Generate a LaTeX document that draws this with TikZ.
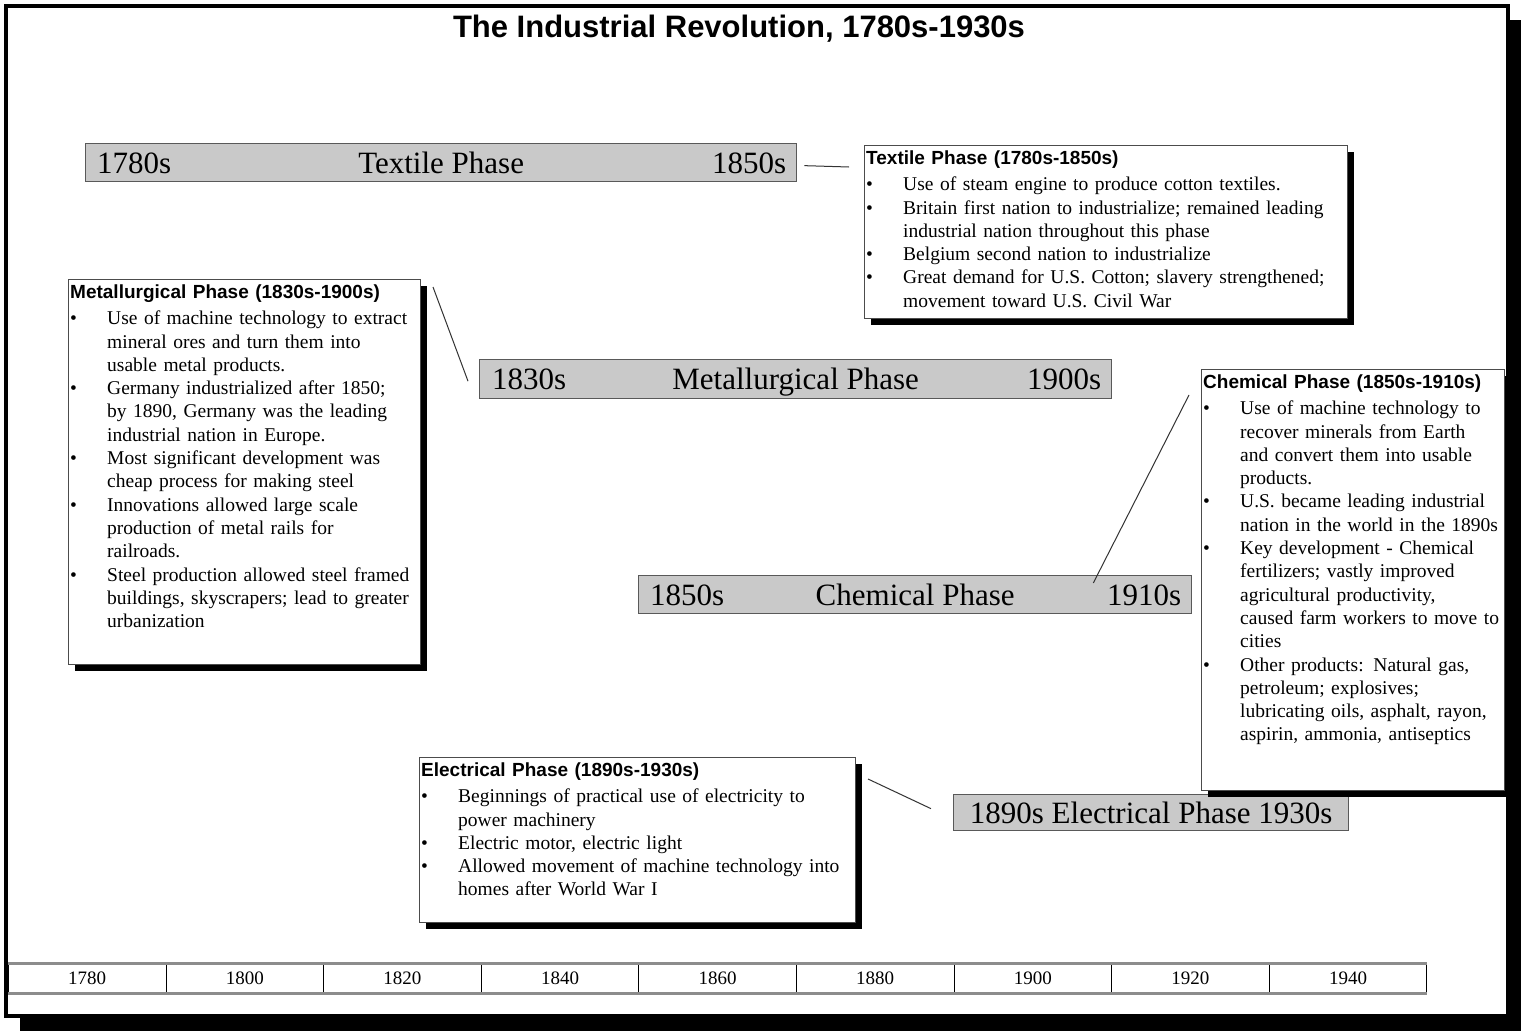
\documentclass[tikz,border=0pt]{standalone}
\usepackage{fontspec}
\setmainfont{Liberation Serif}
\setsansfont{Liberation Sans}
\usetikzlibrary{positioning,shadows}

\newcommand{\notehead}[1]{\noindent{\sffamily\bfseries\fontsize{19}{23}\selectfont #1}\par\vspace{2.5pt}}
\newcommand{\noteitem}[1]{\noindent\hangindent=37pt\hangafter=1\makebox[37pt][l]{\textbullet}#1\par}
\newcommand{\brk}{\hfil\break}

\tikzset{
  phasebar/.style={draw=black!65, line width=1.3pt, fill=black!21, anchor=north west,
    inner sep=0pt, text height=21pt, text depth=0pt, font=\fontsize{31}{32}\selectfont},
  bartext/.style={inner sep=0pt, text height=21pt, text depth=0pt, font=\fontsize{31}{32}\selectfont},
  notebox/.style={draw=black!70, line width=1pt, fill=white, anchor=north west, inner sep=0pt,
    drop shadow={shadow xshift=6pt, shadow yshift=-6pt, fill=black, opacity=1}},
  notetext/.style={anchor=north west, inner sep=0pt, align=left,
    font=\fontsize{19.5}{23.3}\selectfont},
  yearcell/.style={draw=black, line width=.8pt, anchor=north west, inner sep=0pt,
    minimum width=157.6pt, minimum height=30pt, font=\fontsize{19}{20}\selectfont},
  link/.style={draw=black!80, line width=1pt}
}

\begin{document}
\begin{tikzpicture}[x=1pt,y=-1pt]
  \useasboundingbox (0,0) rectangle (1527,1031);
  % page frame with shadow
  \fill[black] (20,20) rectangle (1521,1031);
  \draw[line width=3.5pt, fill=white] (6,6) rectangle (1508,1016);

  \node[font=\sffamily\bfseries\fontsize{31}{33}\selectfont, inner sep=0pt] (title) at (739,29)
    {The Industrial Revolution, 1780s-1930s};

  % phase bars
  \node[phasebar, minimum width=711pt, minimum height=38pt] (txbar) at (85,143) {Textile Phase};
  \node[bartext, right=12pt of txbar.west] {1780s};
  \node[bartext, left=11pt of txbar.east] {1850s};

  \node[phasebar, minimum width=632pt, minimum height=39pt] (mtbar) at (479,359) {Metallurgical Phase};
  \node[bartext, right=13pt of mtbar.west] {1830s};
  \node[bartext, left=11pt of mtbar.east] {1900s};

  \node[phasebar, minimum width=553pt, minimum height=38pt] (chbar) at (638,575) {Chemical Phase};
  \node[bartext, right=12pt of chbar.west] {1850s};
  \node[bartext, left=11pt of chbar.east] {1910s};

  \node[phasebar, minimum width=395pt, minimum height=36pt] (elbar) at (953,794)
    {1890s Electrical Phase 1930s};

  % note boxes
  \node[notebox, minimum width=483pt, minimum height=173pt] (txbox) at (864,145) {};
  \node[notetext, text width=478pt] at ([shift={(2,6)}]txbox.north west) {%
    \notehead{Textile Phase (1780s-1850s)}
    \noteitem{Use of steam engine to produce cotton textiles.}
    \noteitem{Britain first nation to industrialize; remained leading\brk industrial nation throughout this phase}
    \noteitem{Belgium second nation to industrialize}
    \noteitem{Great demand for U.S. Cotton; slavery strengthened;\brk movement toward U.S. Civil War}};

  \node[notebox, minimum width=352pt, minimum height=385pt] (mtbox) at (68,279) {};
  \node[notetext, text width=349pt] at ([shift={(2,6)}]mtbox.north west) {%
    \notehead{Metallurgical Phase (1830s-1900s)}
    \noteitem{Use of machine technology to extract\brk mineral ores and turn them into\brk usable metal products.}
    \noteitem{Germany industrialized after 1850;\brk by 1890, Germany was the leading\brk industrial nation in Europe.}
    \noteitem{Most significant development was\brk cheap process for making steel}
    \noteitem{Innovations allowed large scale\brk production of metal rails for\brk railroads.}
    \noteitem{Steel production allowed steel framed\brk buildings, skyscrapers; lead to greater\brk urbanization}};

  \node[notebox, minimum width=303pt, minimum height=421pt] (chbox) at (1201,369) {};
  \node[notetext, text width=302pt] at ([shift={(2,6)}]chbox.north west) {%
    \notehead{Chemical Phase (1850s-1910s)}
    \noteitem{Use of machine technology to\brk recover minerals from Earth\brk and convert them into usable\brk products.}
    \noteitem{U.S. became leading industrial\brk nation in the world in the 1890s}
    \noteitem{Key development - Chemical\brk fertilizers; vastly improved\brk agricultural productivity,\brk caused farm workers to move to\brk cities}
    \noteitem{Other products: Natural gas,\brk petroleum; explosives;\brk lubricating oils, asphalt, rayon,\brk aspirin, ammonia, antiseptics}};

  \node[notebox, minimum width=436pt, minimum height=165pt] (elbox) at (419,757) {};
  \node[notetext, text width=432pt] at ([shift={(2,6)}]elbox.north west) {%
    \notehead{Electrical Phase (1890s-1930s)}
    \noteitem{Beginnings of practical use of electricity to\brk power machinery}
    \noteitem{Electric motor, electric light}
    \noteitem{Allowed movement of machine technology into\brk homes after World War I}};

  % connectors
  \draw[link] ([shift={(7,3)}]txbar.east) -- ([shift={(-15,22)}]txbox.north west);
  \draw[link] ([shift={(12,8)}]mtbox.north east) -- ([shift={(-11,2)}]mtbar.west);
  \draw[link] ([shift={(-12,26)}]chbox.north west) -- ([shift={(-99,8)}]chbar.north east);
  \draw[link] ([shift={(12,22)}]elbox.north east) -- ([shift={(-22,-4)}]elbar.west);

  % time scale
  \foreach \yr [count=\i from 0] in {1780,1800,...,1940} {
    \node[yearcell] (yr\i) at ({8+157.6*\i},963) {\yr};
  }
  \draw[black!45, line width=3pt] (yr0.north west) -- (yr8.north east);
  \draw[black!45, line width=3pt] (yr0.south west) -- (yr8.south east);
\end{tikzpicture}
\end{document}
